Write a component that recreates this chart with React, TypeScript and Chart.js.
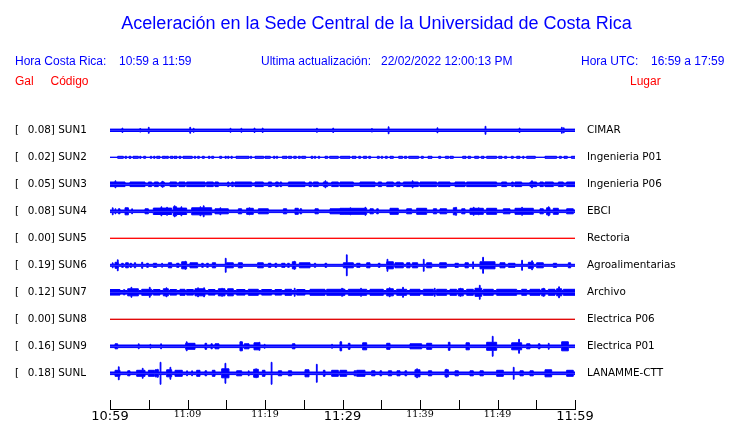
import React, { useEffect, useRef } from 'react';
import { Chart, registerables } from 'chart.js';

Chart.register(...registerables);

// ---------------- data ----------------
const stationCodes = ['SUN1', 'SUN2', 'SUN3', 'SUN4', 'SUN5', 'SUN6', 'SUN7', 'SUN8', 'SUN9', 'SUNL'];
const peakGal = ['0.08', '0.02', '0.05', '0.08', '0.00', '0.19', '0.12', '0.00', '0.16', '0.18'];
const places = ['CIMAR', 'Ingenieria P01', 'Ingenieria P06', 'EBCI', 'Rectoria', 'Agroalimentarias', 'Archivo', 'Electrica P06', 'Electrica P01', 'LANAMME-CTT'];
const traceColors = ['#0000ff', '#0000ff', '#0000ff', '#0000ff', '#ff0000', '#0000ff', '#0000ff', '#e00000', '#0000ff', '#0000ff'];
const timeLabels = ['10:59', '11:09', '11:19', '11:29', '11:39', '11:49', '11:59'];

// background amplitude of each trace (same units as the 27-unit row step)
const baseAmp = [1.2, 0, 1.3, 1.3, 0, 1.0, 1.8, 0, 1.3, 1.3];

// bursts: [minute, amp] = short spike, [fromMinute, toMinute, amp] = burst
const sun1Bursts = [[1.55, 2.2], [3.85, 1.8], [4.95, 3.0], [10.3, 3.0], [10.75, 2.0], [15.5, 2.0], [16.9, 2.0], [18.6, 2.2], [19.65, 2.2], [26.65, 2.0], [28.75, 2.2], [33.75, 1.8], [35.9, 3.5], [42.2, 2.5], [48.4, 4.0], [52.8, 2.2], [58.25, 3.0], [58.5, 2.5]];
const sun2Bursts = [[0.99, 1.72, 1], [1.94, 2.15, 1], [2.45, 2.71, 1], [2.97, 3.66, 1], [3.83, 4.0, 1], [4.34, 4.6, 1], [5.2, 5.38, 1], [5.63, 5.81, 1], [6.02, 6.45, 1], [6.75, 7.18, 1], [7.27, 7.53, 1], [7.78, 8.13, 1], [8.26, 8.65, 1], [8.9, 9.16, 1], [9.42, 10.62, 1], [10.88, 11.05, 1], [11.31, 11.53, 1], [11.91, 12.17, 1], [12.69, 12.9, 1], [13.12, 13.38, 1], [14.15, 14.41, 1], [14.84, 15.01, 1], [15.18, 15.35, 1], [15.61, 15.78, 1], [16.26, 17.94, 1], [18.11, 18.28, 1], [18.71, 19.83, 1], [20.0, 20.69, 1], [21.08, 21.29, 1], [21.46, 21.63, 1], [22.24, 22.84, 1], [23.01, 23.44, 1], [23.7, 24.04, 1], [24.3, 24.56, 1], [24.73, 25.25, 1], [25.94, 26.19, 1], [26.37, 26.54, 1], [26.88, 27.05, 1], [27.74, 28.09, 1], [28.34, 29.46, 1], [29.72, 30.97, 1], [31.23, 31.74, 1], [32.09, 32.34, 1], [32.69, 33.12, 1], [33.38, 33.63, 1], [34.49, 34.75, 1], [35.01, 35.18, 1], [35.53, 35.78, 1], [36.13, 36.56, 1], [37.25, 37.76, 1], [38.0, 38.28, 1], [38.54, 39.83, 1], [40.17, 40.43, 1], [41.03, 41.55, 1], [42.41, 42.67, 1], [43.27, 43.7, 1], [43.87, 44.3, 1], [45.5, 45.94, 1], [46.19, 46.54, 1], [47.05, 47.57, 1], [47.91, 48.26, 1], [48.6, 49.89, 1], [50.15, 50.58, 1], [50.92, 51.18, 1], [51.78, 52.04, 1], [52.47, 52.9, 1], [53.25, 53.42, 1], [53.76, 54.88, 1], [56.13, 57.63, 1], [57.98, 58.24, 1], [58.58, 59.01, 1], [59.53, 60, 1]];
const sun3Bursts = [[0, 1.94, 2.3], [0.65, 3.5], [2.58, 4.52, 2.3], [4.95, 5.38, 2.3], [5.72, 6.24, 2.3], [6.58, 7.01, 2.3], [6.75, 3.0], [7.74, 8.6, 2.3], [8.9, 9.68, 2.3], [9.89, 12.26, 2.3], [12.47, 13.33, 2.3], [13.55, 13.98, 2.3], [15.18, 15.35, 2.3], [15.7, 15.91, 2.3], [16.13, 18.28, 2.3], [18.71, 19.78, 2.3], [20.43, 20.86, 2.3], [21.38, 21.72, 2.3], [21.94, 22.15, 2.3], [23.01, 25.16, 2.3], [25.68, 26.02, 2.3], [26.24, 26.88, 2.3], [27.53, 28.09, 2.3], [27.74, 3.5], [28.6, 29.46, 2.3], [29.68, 31.4, 2.3], [32.26, 34.19, 2.3], [34.62, 35.05, 2.3], [35.7, 36.56, 2.3], [36.99, 37.42, 2.3], [37.85, 39.78, 2.3], [39.0, 3.5], [40.0, 42.15, 2.3], [42.37, 43.87, 2.3], [44.52, 45.81, 2.3], [46.02, 49.89, 2.3], [50.54, 51.18, 2.3], [51.83, 52.04, 2.3], [52.26, 53.12, 2.3], [54.19, 55.05, 2.3], [54.4, 3.5], [55.48, 55.91, 2.3], [56.13, 57.2, 2.3], [57.85, 58.49, 2.3], [58.92, 60, 2.3]];
const sun4Bursts = [[0.3, 3.5], [0.65, 2.5], [1.08, 1.29, 2.5], [1.94, 2.37, 3.5], [2.8, 2.5], [4.52, 4.95, 2.5], [5.59, 7.96, 3.2], [6.58, 4.5], [7.31, 4], [8.17, 8.6, 4.5], [8.3, 5.5], [8.6, 9.89, 3.2], [9.16, 4.5], [10.54, 13.12, 3.5], [11.61, 4.5], [12.04, 5.5], [13.55, 15.27, 2.5], [14.19, 3.5], [16.56, 16.99, 2.5], [17.63, 18.49, 3], [17.94, 3.5], [19.14, 20.43, 2.5], [22.37, 22.8, 2.5], [23.87, 24.3, 3], [24.52, 24.73, 2.5], [26.45, 26.88, 2.5], [28.39, 30.32, 2.5], [29.68, 33.12, 3], [30.97, 3.5], [32.9, 4], [33.55, 33.98, 2.5], [34.41, 34.62, 2.5], [36.13, 37.2, 3], [38.28, 38.92, 2.5], [39.57, 40.86, 3], [41.72, 42.15, 2.5], [42.58, 43.44, 2.5], [44.3, 44.73, 3.5], [44.6, 4], [45.38, 45.81, 2.5], [46.45, 48.17, 3], [46.88, 4], [47.53, 3.5], [48.6, 49.89, 3], [50.75, 51.61, 2.5], [52.26, 54.62, 3], [53.12, 4], [55.48, 55.91, 2.5], [56.34, 56.77, 3.5], [56.56, 4.5], [57.2, 57.85, 3], [58.92, 59.78, 2.5]];
const sun5Bursts: number[][] = [];
const sun6Bursts = [[0.3, 2.5], [0.65, 1.08, 3], [0.95, 5.5], [1.5, 1.72, 2], [2.02, 2.37, 2.5], [2.58, 2.8, 2], [3.14, 3.31, 2.5], [4.09, 4.22, 3], [4.73, 4.95, 2], [5.59, 6.02, 2], [6.67, 2], [7.53, 7.96, 2.5], [8.6, 8.9, 2], [9.25, 9.89, 3.5], [9.68, 4], [10.32, 11.31, 2.5], [11.83, 12.04, 2], [12.47, 12.69, 2], [13.2, 13.63, 2.5], [14.88, 7], [15.05, 15.91, 2.5], [16.56, 17.08, 2.5], [19.05, 19.78, 2.5], [20.43, 20.77, 2], [21.29, 21.51, 2], [22.15, 22.58, 2], [22.92, 23.14, 2], [23.53, 23.96, 3.5], [23.74, 4], [24.43, 25.81, 2.5], [26.37, 26.54, 2], [27.74, 27.96, 2], [30.11, 31.4, 2.5], [30.5, 10.5], [31.83, 32.26, 2], [33.12, 33.55, 2.5], [34.62, 34.84, 2], [35.7, 36.56, 3.5], [35.75, 6], [36.77, 37.85, 2.5], [38.28, 38.71, 2.5], [39.01, 39.7, 2.5], [40.43, 6], [40.86, 41.51, 2.5], [42.54, 43.4, 2.5], [44.52, 44.95, 2], [45.81, 46.24, 2.5], [46.8, 3.5], [47.74, 49.68, 3.5], [48.09, 8], [50.32, 50.97, 2.5], [51.4, 52.26, 2], [53.12, 5], [53.98, 54.62, 3], [54.41, 4.5], [55.05, 55.91, 2.5], [57.2, 57.63, 2], [59.14, 59.44, 2.5]];
const sun7Bursts = [[0, 1.29, 2.8], [1.72, 1.94, 2.5], [2.28, 3.66, 3.5], [2.71, 5], [4.09, 5.38, 3], [5.08, 5], [5.59, 6.45, 2.8], [6.88, 7.53, 3.5], [7.23, 4.5], [7.74, 8.6, 2.8], [9.03, 9.68, 3], [9.89, 10.75, 2.8], [10.97, 12.26, 3.5], [11.31, 4.5], [12.09, 4.5], [12.69, 13.55, 2.8], [13.98, 14.84, 3.5], [14.41, 4], [15.18, 15.91, 3.5], [16.34, 17.42, 2.8], [17.85, 19.14, 3], [19.57, 20.86, 2.8], [21.29, 22.15, 2.8], [22.58, 23.44, 3], [23.78, 4], [24.09, 25.16, 2.8], [25.81, 27.74, 3], [27.96, 30.32, 3], [29.89, 4], [30.02, 3.5], [30.75, 33.12, 3], [32.34, 4], [33.55, 35.27, 3], [35.7, 36.56, 3.5], [36.04, 4.5], [36.99, 38.28, 3], [37.76, 5], [38.71, 40.0, 3], [40.43, 41.72, 3], [41.85, 4], [42.15, 43.44, 3], [43.87, 44.73, 3], [44.95, 45.59, 3.5], [45.16, 4], [46.02, 46.88, 3], [47.1, 47.96, 4], [47.66, 7], [48.17, 49.46, 3], [49.89, 52.47, 3], [53.12, 53.76, 3], [54.19, 55.48, 3], [55.7, 56.13, 3.5], [55.91, 4], [56.56, 57.42, 3], [57.63, 58.28, 3.5], [57.89, 5.5], [58.49, 60, 3]];
const sun8Bursts: number[][] = [];
const sun9Bursts = [[0.65, 0.99, 2.5], [3.66, 2.5], [5.16, 2], [6.54, 2.5], [9.76, 10.97, 3], [9.85, 4.5], [12.26, 12.47, 3], [13.03, 13.2, 2.5], [13.55, 14.06, 2.5], [16.77, 17.08, 4.5], [17.33, 17.94, 2.5], [18.58, 19.35, 3.5], [19.23, 4], [19.91, 2], [23.53, 23.87, 2.5], [28.6, 2], [29.68, 29.89, 4.5], [30.75, 30.97, 3], [32.6, 33.12, 3.5], [35.7, 36.13, 3], [38.71, 40.22, 2.5], [40.86, 41.51, 3], [43.66, 43.87, 4], [45.94, 46.37, 3.5], [48.6, 49.89, 4], [49.33, 10], [51.83, 53.12, 3.5], [52.73, 7], [53.76, 54.19, 2.5], [55.27, 55.48, 2.5], [56.56, 3], [58.28, 59.14, 4.5]];
const sunLBursts = [[0.65, 1.29, 3], [1.08, 6.5], [2.28, 2.58, 2.5], [3.44, 4.52, 3], [4.17, 5], [4.95, 5.72, 3], [5.81, 6.24, 3.5], [6.11, 4], [6.47, 11], [7.31, 7.96, 3.5], [7.74, 6], [8.39, 9.33, 3], [9.89, 2.5], [10.54, 2.5], [11.18, 11.61, 3], [12.26, 12.47, 2.5], [13.2, 13.55, 3], [14.41, 15.35, 4.5], [14.84, 10], [16.34, 16.99, 2.5], [17.85, 2.5], [18.54, 19.14, 4], [18.8, 4.5], [19.66, 20.0, 3], [20.8, 11], [21.72, 22.15, 2.5], [23.01, 23.44, 2.5], [25.16, 25.68, 3.5], [26.63, 9], [27.53, 27.74, 3], [28.6, 29.46, 3], [29.68, 30.54, 3], [31.51, 31.72, 2.5], [31.83, 32.9, 3], [33.76, 34.19, 2.5], [34.84, 35.05, 2.5], [35.91, 36.34, 2.5], [37.03, 37.42, 2.5], [38.06, 38.28, 2.5], [39.35, 40.0, 3.5], [39.57, 4.5], [41.08, 41.51, 2.5], [43.23, 43.66, 3.5], [43.35, 4], [44.52, 44.95, 2.5], [46.45, 46.88, 2.5], [47.74, 48.17, 2.5], [49.89, 50.75, 3], [52.04, 6], [52.9, 53.33, 2.5], [54.19, 54.62, 2.5], [56.13, 56.99, 3.5], [58.92, 59.78, 3]];

const traceBursts = [sun1Bursts, sun2Bursts, sun3Bursts, sun4Bursts, sun5Bursts, sun6Bursts, sun7Bursts, sun8Bursts, sun9Bursts, sunLBursts];

// ---------------- layout constants ----------------
const ROW_STEP = 27;
const SPIKE_WIDTH = 0.1; // minutes
const BLUE = '#0000ff';
const RED = '#ff0000';

function envelope(base: number, bursts: number[][]) {
  const iv = bursts.map((b) => (b.length === 2 ? [b[0], b[0] + SPIKE_WIDTH, b[1]] : b));
  const set = new Set<number>([0, 60]);
  iv.forEach(([a, b]) => {
    set.add(Math.max(0, a));
    set.add(Math.min(60, b));
  });
  const xs = Array.from(set).sort((a, b) => a - b);
  const out: number[][] = [];
  for (let i = 0; i < xs.length - 1; i++) {
    const m = (xs[i] + xs[i + 1]) / 2;
    let amp = base;
    iv.forEach(([a, b, v]) => {
      if (m >= a && m <= b && v > amp) amp = v;
    });
    out.push([xs[i], amp]);
  }
  out.push([60, out[out.length - 1][1]]);
  return out;
}

const headerPlugin = {
  id: 'header',
  afterDraw(chart: any) {
    const ctx = chart.ctx;
    ctx.save();
    ctx.textBaseline = 'alphabetic';
    ctx.fillStyle = BLUE;
    ctx.font = '18px "Liberation Sans", Arial, sans-serif';
    ctx.textAlign = 'center';
    ctx.fillText('Aceleración en la Sede Central de la Universidad de Costa Rica', 376.5, 28.5);
    ctx.textAlign = 'left';
    ctx.font = '12px "Liberation Sans", Arial, sans-serif';
    ctx.fillText('Hora Costa Rica:', 15, 64.5);
    ctx.fillText('10:59 a 11:59', 119, 64.5);
    ctx.fillText('Ultima actualización:', 261, 64.5);
    ctx.fillText('22/02/2022 12:00:13 PM', 381, 64.5);
    ctx.fillText('Hora UTC:', 581, 64.5);
    ctx.fillText('16:59 a 17:59', 651, 64.5);
    ctx.fillStyle = RED;
    ctx.fillText('Gal', 15, 84.5);
    ctx.fillText('Código', 50.5, 84.5);
    ctx.fillText('Lugar', 630, 84.5);
    ctx.restore();
  },
};

const tickMarksPlugin = {
  id: 'tickMarks',
  afterDraw(chart: any) {
    const x = chart.scales.x;
    const { ctx, chartArea } = chart;
    ctx.save();
    ctx.strokeStyle = '#000';
    ctx.lineWidth = 1;
    x.ticks.forEach((t: any) => {
      const px = Math.round(x.getPixelForValue(t.value)) + 0.5;
      ctx.beginPath();
      ctx.moveTo(px, chartArea.bottom - 9);
      ctx.lineTo(px, chartArea.bottom);
      ctx.stroke();
    });
    ctx.restore();
  },
};

function noPad(scale: any) {
  scale.paddingTop = 0;
  scale.paddingBottom = 0;
  scale.paddingLeft = 0;
  scale.paddingRight = 0;
}

export default function App() {
  const ref = useRef<HTMLCanvasElement | null>(null);
  useEffect(() => {
    if (!ref.current) return;
    const centers = stationCodes.map((_, i) => ROW_STEP * i);
    const datasets: any[] = [];
    stationCodes.forEach((code, i) => {
      const c = centers[i];
      const env = envelope(baseAmp[i], traceBursts[i]);
      [-1, 1].forEach((sign) => {
        datasets.push({
          label: code,
          data: env.map(([t, a]) => ({ x: t, y: c + sign * a })),
          borderColor: traceColors[i],
          backgroundColor: traceColors[i],
          borderWidth: 1,
          pointRadius: 0,
          stepped: true,
          fill: { value: c },
          yAxisID: 'y',
        });
      });
    });
    const leftLabels = stationCodes.map((c, i) => '[  \u2009' + peakGal[i] + '] ' + c);
    const labelFont = { family: "'DejaVu Sans', sans-serif", size: 10.4 };
    const yCommon = {
      type: 'linear',
      min: -14.3,
      max: 278.7,
      reverse: true,
      grid: { display: false, drawTicks: false },
      border: { display: false },
      afterBuildTicks: (scale: any) => {
        scale.ticks = centers.map((v) => ({ value: v }));
      },
    };
    const chart = new Chart(ref.current, {
      type: 'line',
      data: { datasets },
      plugins: [headerPlugin, tickMarksPlugin],
      options: {
        animation: false,
        responsive: false,
        devicePixelRatio: 1,
        events: [],
        layout: { autoPadding: false, padding: { top: 116, left: 15, right: 0, bottom: 0 } },
        plugins: { legend: { display: false }, tooltip: { enabled: false }, title: { display: false } },
        scales: {
          x: {
            type: 'linear',
            min: 0,
            max: 60,
            grid: { display: false, drawTicks: false },
            border: { display: true, color: '#000', width: 1 },
            ticks: {
              stepSize: 5,
              autoSkip: false,
              maxRotation: 0,
              minRotation: 0,
              padding: 0,
              color: '#000',
              font: (ctx: any) => {
                const v = ctx.tick ? ctx.tick.value : 0;
                return v % 30 === 0
                  ? { family: "'DejaVu Sans', sans-serif", size: 13 }
                  : { family: "'DejaVu Serif', serif", size: 9.5 };
              },
              callback: (v: any) => (Number(v) % 10 === 0 ? timeLabels[Number(v) / 10] : ''),
            },
            afterFit: (scale: any) => {
              scale.height = 14;
              noPad(scale);
            },
          },
          y: {
            ...yCommon,
            position: 'left',
            ticks: {
              autoSkip: false,
              crossAlign: 'far',
              color: '#000',
              font: labelFont,
              callback: (_v: any, idx: number) => leftLabels[idx],
            },
            afterFit: (scale: any) => {
              scale.width = 95;
              noPad(scale);
            },
          },
          y2: {
            ...yCommon,
            position: 'right',
            ticks: {
              autoSkip: false,
              crossAlign: 'near',
              padding: 12,
              color: '#000',
              font: labelFont,
              callback: (_v: any, idx: number) => places[idx],
            },
            afterFit: (scale: any) => {
              scale.width = 165;
              noPad(scale);
            },
          },
        },
      } as any,
    });
    return () => chart.destroy();
  }, []);
  return (
    <div style={{ position: 'absolute', left: 0, top: 0, width: 740, height: 423, background: '#fff' }}>
      <canvas ref={ref} width={740} height={423} style={{ width: 740, height: 423, display: 'block' }} />
    </div>
  );
}
